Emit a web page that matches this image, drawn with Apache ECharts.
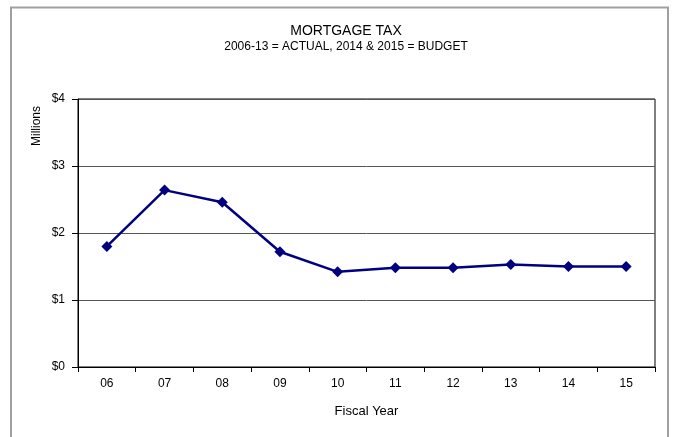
<!DOCTYPE html>
<html>
<head>
<meta charset="utf-8">
<script src="https://cdn.jsdelivr.net/npm/echarts@6/dist/echarts.min.js"></script>
<style>
  html, body { margin: 0; padding: 0; background: #fff; }
  #chart { width: 673px; height: 437px; }
</style>
</head>
<body>
<div id="chart"></div>
<script>
// Fiscal years (two-digit) and mortgage tax revenue in millions of dollars
const fiscalYears = ['06', '07', '08', '09', '10', '11', '12', '13', '14', '15'];
const mortgageTax = [1.80, 2.64, 2.46, 1.72, 1.42, 1.48, 1.48, 1.53, 1.50, 1.50];
const yTicks = [0, 1, 2, 3, 4];

const FONT = '"Liberation Sans", Arial, sans-serif';
const chart = echarts.init(document.getElementById('chart'), null, { renderer: 'canvas' });

chart.setOption({
  animation: false,
  backgroundColor: '#fff',
  title: {
    text: 'MORTGAGE TAX',
    subtext: '2006-13 = ACTUAL, 2014 & 2015 = BUDGET',
    left: 341,
    textAlign: 'center',
    top: 19,
    itemGap: 3,
    textStyle: { fontFamily: FONT, fontSize: 14, fontWeight: 'normal', color: '#000' },
    subtextStyle: { fontFamily: FONT, fontSize: 12, color: '#000' }
  },
  graphic: [
    {
      // outer chart frame
      type: 'rect',
      shape: { x: 11, y: 7.5, width: 657, height: 440 },
      style: { fill: 'none', stroke: '#a0a0a0', lineWidth: 2 },
      silent: true
    },
    {
      type: 'text',
      x: 37, y: 126,
      rotation: Math.PI / 2,
      style: {
        text: 'Millions',
        font: '12px ' + FONT,
        fill: '#000',
        align: 'center',
        verticalAlign: 'middle'
      }
    }
  ],
  grid: {
    left: 78, right: 18, top: 99, bottom: 70,
    show: true,
    borderColor: '#000',
    borderWidth: 1,
    backgroundColor: '#fff'
  },
  xAxis: {
    type: 'category',
    data: fiscalYears,
    boundaryGap: true,
    name: 'Fiscal Year',
    nameLocation: 'middle',
    nameGap: 38,
    nameTextStyle: { fontFamily: FONT, fontSize: 13, color: '#000' },
    axisLine: { lineStyle: { color: '#000', width: 1 } },
    axisTick: { show: true, alignWithLabel: false, length: 5, lineStyle: { color: '#000' } },
    axisLabel: { fontFamily: FONT, fontSize: 12, color: '#000', margin: 11 },
    splitLine: { show: false }
  },
  yAxis: {
    type: 'value',
    min: yTicks[0],
    max: yTicks[yTicks.length - 1],
    interval: 1,
    axisLine: { show: true, lineStyle: { color: '#000', width: 1 } },
    axisTick: { show: true, inside: false, length: 6, lineStyle: { color: '#000' } },
    axisLabel: {
      fontFamily: FONT, fontSize: 12, color: '#000', margin: 13,
      formatter: v => '$' + v
    },
    splitLine: { show: true, lineStyle: { color: '#555', width: 1 } }
  },
  series: [{
    type: 'line',
    data: mortgageTax,
    symbol: 'diamond',
    symbolSize: 11,
    lineStyle: { color: '#000080', width: 2.5 },
    itemStyle: { color: '#000080' },
    z: 5
  }]
});
</script>
</body>
</html>
